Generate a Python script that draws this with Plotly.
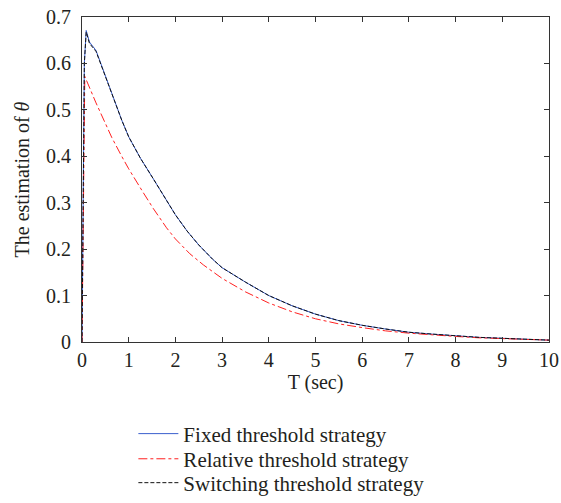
import plotly.graph_objects as go

# Time samples (sec)
t_fixed = [0.0, 0.02, 0.05, 0.09, 0.16, 0.3, 0.5, 0.7, 0.85, 1.0, 1.25, 1.53, 1.75, 2.0, 2.25, 2.5, 2.8, 3.0, 3.5, 4.0, 4.5, 5.0, 5.5, 6.0, 6.5, 7.0, 7.5, 8.0, 8.5, 9.0, 9.5, 10.0]
fixed = [0.0, 0.30, 0.60, 0.671, 0.646, 0.628, 0.572, 0.519, 0.478, 0.442, 0.396, 0.351, 0.314, 0.274, 0.239, 0.209, 0.178, 0.160, 0.129, 0.100, 0.078, 0.060, 0.046, 0.036, 0.028, 0.021, 0.017, 0.013, 0.010, 0.008, 0.006, 0.004]
switching = [0.0, 0.30, 0.60, 0.668, 0.643, 0.626, 0.572, 0.519, 0.478, 0.442, 0.396, 0.351, 0.314, 0.274, 0.239, 0.209, 0.178, 0.160, 0.129, 0.100, 0.078, 0.060, 0.046, 0.036, 0.028, 0.021, 0.017, 0.013, 0.010, 0.008, 0.006, 0.004]

t_relative = [0.0, 0.02, 0.04, 0.06, 0.3, 0.64, 0.85, 1.0, 1.31, 1.53, 1.81, 2.0, 2.31, 2.6, 3.0, 3.5, 4.0, 4.5, 5.0, 5.5, 6.0, 6.5, 7.0, 7.5, 8.0, 8.5, 9.0, 9.5, 10.0]
relative = [0.0, 0.20, 0.45, 0.572, 0.515, 0.440, 0.400, 0.373, 0.322, 0.287, 0.246, 0.222, 0.190, 0.166, 0.137, 0.108, 0.084, 0.065, 0.050, 0.039, 0.031, 0.024, 0.019, 0.015, 0.012, 0.009, 0.007, 0.005, 0.004]

x_ticks = list(range(0, 11))
y_ticks = [0, 0.1, 0.2, 0.3, 0.4, 0.5, 0.6, 0.7]

fig = go.Figure()
fig.add_trace(go.Scatter(x=t_fixed, y=fixed, mode="lines", name="Fixed threshold strategy",
                         legend="legend", line=dict(color="#3a5fcd", width=1)))
fig.add_trace(go.Scatter(x=t_relative, y=relative, mode="lines", name="Relative threshold strategy",
                         legend="legend2", line=dict(color="#ff2020", width=1, dash="dashdot")))
fig.add_trace(go.Scatter(x=t_fixed, y=switching, mode="lines", name="Switching threshold strategy",
                         legend="legend3", line=dict(color="#111111", width=1, dash="4px,2px")))

font_family = "Liberation Serif, Times New Roman, serif"
axis_common = dict(
    showline=True, linecolor="#333333", linewidth=1, mirror="ticks",
    ticks="inside", ticklen=5, tickcolor="#333333", showgrid=False, zeroline=False,
    automargin=False,
    tickfont=dict(family=font_family, size=20, color="#231f20"),
)

def legend_at(ytop):
    return dict(x=0.11, y=ytop, xanchor="left", yanchor="top", yref="container",
                bgcolor="rgba(0,0,0,0)",
                font=dict(family=font_family, size=21, color="#231f20"),
                itemwidth=40)

fig.update_layout(
    width=561, height=503,
    margin=dict(l=82, r=12, t=17, b=161),
    paper_bgcolor="white", plot_bgcolor="white",
    font=dict(family=font_family, size=20, color="#231f20"),
    xaxis=dict(range=[0, 10], tickvals=x_ticks, ticklabelstandoff=0,
               title=dict(text="T (sec)", font=dict(family=font_family, size=20), standoff=0),
               **axis_common),
    yaxis=dict(range=[0, 0.7], tickvals=y_ticks, ticklabelstandoff=6,
               title=dict(text="The estimation of <i>θ</i>", font=dict(family=font_family, size=20), standoff=11),
               **axis_common),
    showlegend=True,
    legend=legend_at(0.178),
    legend2=legend_at(0.128),
    legend3=legend_at(0.0805),
)

# remove the page's default body margin so the figure sits at the window's corner
fig.write_html("out.html", config={"displayModeBar": False},
               post_script="document.body.style.margin='0';")
